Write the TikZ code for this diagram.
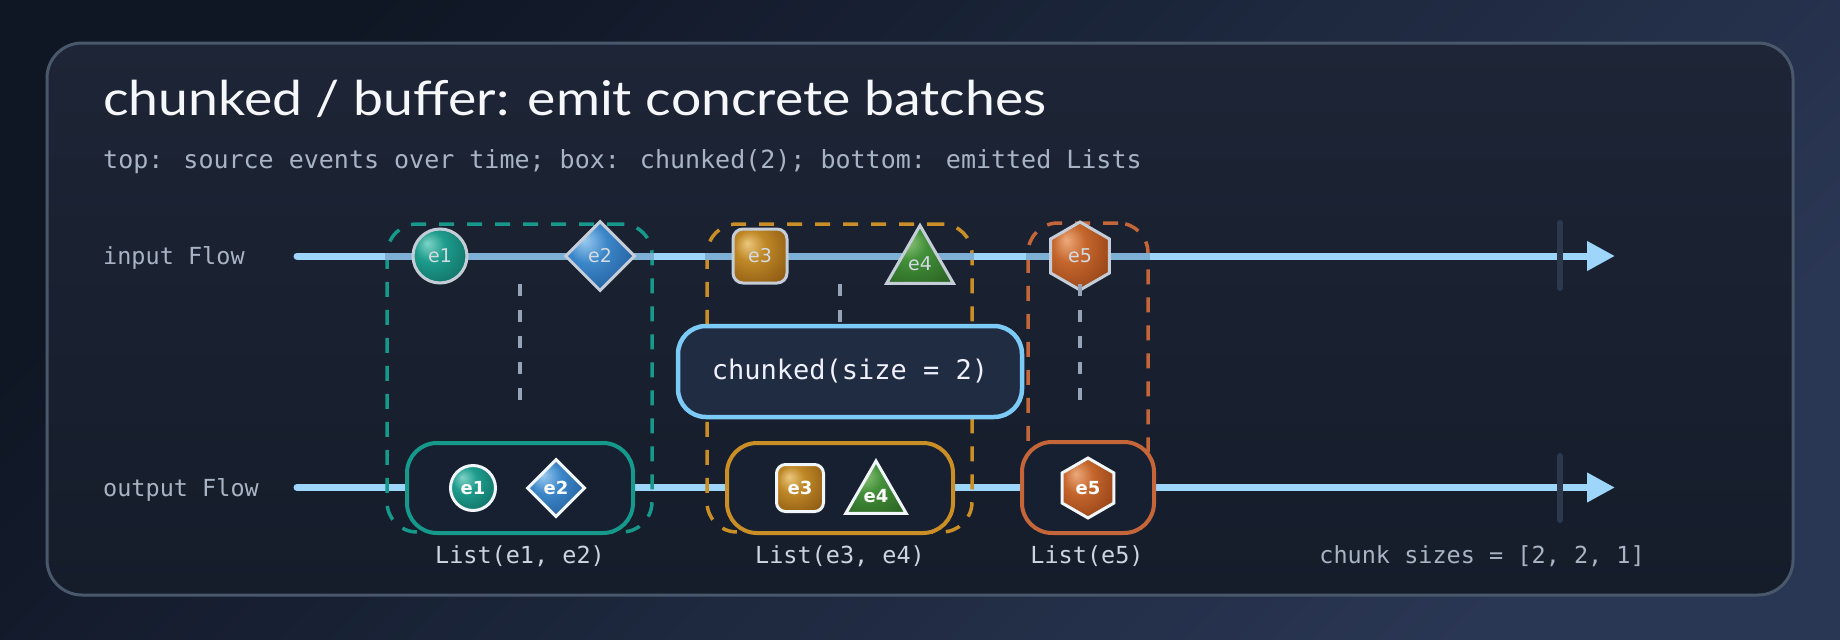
\documentclass[tikz,border=0pt]{standalone}
\usepackage{fontspec}
\usepackage{graphicx}
\setmainfont{DejaVu Sans}
\newfontfamily\titlefont{Lato}
\newfontfamily\monofont{DejaVu Sans Mono}
\usetikzlibrary{shapes.geometric,arrows.meta}

\definecolor{bgA}{HTML}{0F1624}
\definecolor{bgB}{HTML}{2A3754}
\definecolor{panelTop}{HTML}{1D2536}
\definecolor{panelBot}{HTML}{151C2A}
\definecolor{panelLine}{HTML}{4A586C}
\definecolor{flow}{HTML}{9DD5FB}
\definecolor{flowMuted}{HTML}{7EB0D6}
\definecolor{tickc}{HTML}{2C394D}
\definecolor{tealc}{HTML}{16998A}
\definecolor{goldc}{HTML}{C98F26}
\definecolor{rustc}{HTML}{C4663A}
\definecolor{connc}{HTML}{97A4B8}
\definecolor{chunkLine}{HTML}{7CCAF6}
\definecolor{chunkFill}{HTML}{1F2C41}
\definecolor{boxFill}{HTML}{172030}
\definecolor{titleC}{HTML}{F5F7FA}
\definecolor{subC}{HTML}{A8B4C4}
\definecolor{labC}{HTML}{CBD4DF}
\definecolor{evInLine}{HTML}{C5CED8}
\definecolor{evInText}{HTML}{D3DAE2}
\definecolor{evOutLine}{HTML}{F0F6FB}

\definecolor{tealH}{HTML}{7ED3C6}\definecolor{tealB}{HTML}{1E9C8C}\definecolor{tealD}{HTML}{0D675D}
\definecolor{blueH}{HTML}{9CCBF0}\definecolor{blueB}{HTML}{3C87C9}\definecolor{blueD}{HTML}{1C5290}
\definecolor{goldH}{HTML}{EBC77E}\definecolor{goldB}{HTML}{BF8827}\definecolor{goldD}{HTML}{875510}
\definecolor{greenH}{HTML}{98CC82}\definecolor{greenB}{HTML}{43903A}\definecolor{greenD}{HTML}{28601F}
\definecolor{orangeH}{HTML}{EDAA7C}\definecolor{orangeB}{HTML}{C4662D}\definecolor{orangeD}{HTML}{8A3A12}

\colorlet{evhl}{white}\colorlet{evbase}{gray}\colorlet{evdark}{black}
\pgfdeclareradialshading[evhl,evbase,evdark]{evball}{\pgfqpoint{-12bp}{12bp}}{color(0bp)=(evhl); color(14bp)=(evbase); color(40bp)=(evdark); color(60bp)=(evdark)}

\tikzset{
  pal/.code n args={3}{\colorlet{evhl}{#1}\colorlet{evbase}{#2}\colorlet{evdark}{#3}},
  evin/.style={draw=evInLine, line width=3pt, shading=evball, inner sep=0pt, text=evInText, font=\fontsize{19}{20}\selectfont},
  evout/.style={draw=evOutLine, line width=3pt, shading=evball, inner sep=0pt, text=white, font=\bfseries\fontsize{18}{20}\selectfont},
  ecirc/.style={circle},
  ediam/.style={diamond, aspect=1},
  esq/.style={rectangle, rounded corners=#1},
  etri/.style={regular polygon, regular polygon sides=3},
  ehex/.style={regular polygon, regular polygon sides=6, shape border rotate=30},
  grp/.style={draw=#1, line width=3.5pt, dash pattern=on 15pt off 13pt, rounded corners=30pt, rectangle, minimum height=308pt},
  obox/.style={draw=#1, line width=4pt, fill=boxFill, rounded corners=30pt, rectangle, minimum height=90pt},
  conn/.style={draw=connc, line width=4pt, dash pattern=on 12pt off 14pt},
  flowline/.style={draw=flow, line width=7pt, line cap=round, -{Triangle[length=28pt,width=28pt]}},
  muted/.style={draw=flowMuted, line width=7pt},
  tickmark/.style={draw=tickc, line width=6pt, line cap=round},
  mono/.style={font=\monofont\fontsize{23.5}{26}\selectfont, inner sep=0pt},
}

\begin{document}
\begin{tikzpicture}[x=1pt, y=-1pt]
  \useasboundingbox (0,0) rectangle (1840,640);
  \shade[top color=bgA, bottom color=bgB, shading angle=45] (0,0) rectangle (1840,640);
  \path[draw=panelLine, line width=3pt, top color=panelTop, bottom color=panelBot, rounded corners=35pt] (47,43) rectangle (1793,595);

  % texts
  \node[anchor=base west, inner sep=0pt, text=titleC, font=\titlefont\fontsize{48}{52}\selectfont] (title) at (103,115) {\scalebox{1.115}[1]{chunked / buffer: emit concrete batches}};
  \node[anchor=base west, inner sep=0pt, text=subC, font=\monofont\fontsize{25}{28}\selectfont] (sub) at (103,168) {top: source events over time; box: chunked(2); bottom: emitted Lists};
  \node[mono, anchor=base west, text=subC] (inlab) at (103,264) {input Flow};
  \node[mono, anchor=base west, text=subC] (outlab) at (103,496) {output Flow};

  % flow lines
  \coordinate (inS) at (297,256);
  \coordinate (inE) at (1615,256);
  \coordinate (outS) at (297,487.5);
  \coordinate (outE) at (1615,487.5);
  \draw[flowline] (inS) -- (inE);
  \draw[flowline] (outS) -- (outE);
  \coordinate (t1a) at (1560,223); \coordinate (t1b) at (1560,288);
  \coordinate (t2a) at (1560,456); \coordinate (t2b) at (1560,520);
  \draw[tickmark] (t1a) -- (t1b);
  \draw[tickmark] (t2a) -- (t2b);

  % group windows
  \node[grp=tealc, minimum width=265pt] (g1) at (519.5,378) {};
  \node[grp=goldc, minimum width=265pt] (g2) at (839.5,378) {};
  \node[grp=rustc, minimum width=120pt, minimum height=309pt] (g3) at (1088,377.5) {};
  \draw[muted] (g1.west |- inS) -- (g1.east |- inS);
  \draw[muted] (g2.west |- inS) -- (g2.east |- inS);
  \draw[muted] (g3.west |- inS) -- (g3.east |- inS);

  % connectors
  \coordinate (d1a) at (520,284); \coordinate (d1b) at (520,400);
  \coordinate (d2a) at (840,284); \coordinate (d2b) at (840,400);
  \coordinate (d3a) at (1080,284); \coordinate (d3b) at (1080,400);
  \draw[conn] (d1a) -- (d1b);
  \draw[conn] (d2a) -- (d2b);

  % operator
  \node[draw=chunkLine, line width=4.5pt, fill=chunkFill, rounded corners=28pt, minimum width=344pt, minimum height=91pt, text=white!94!blue, font=\monofont\fontsize{27}{30}\selectfont] (op) at (850,371.5) {chunked(size = 2)};

  % output boxes
  \node[obox=tealc, minimum width=226pt] (ob1) at (520,488) {};
  \node[obox=goldc, minimum width=226pt] (ob2) at (840,488) {};
  \node[obox=rustc, minimum width=132pt, minimum height=91pt] (ob3) at (1088,487.5) {};

  % input events
  \node[evin, ecirc, pal={tealH}{tealB}{tealD}, minimum size=54pt] (i1) at (440,256) {e1};
  \node[evin, ediam, pal={blueH}{blueB}{blueD}, minimum size=70pt] (i2) at (600,256) {e2};
  \node[evin, esq=10pt, pal={goldH}{goldB}{goldD}, minimum size=54pt] (i3) at (760,256) {e3};
  \node[evin, etri, pal={greenH}{greenB}{greenD}, minimum size=77pt] (i4) at (920,264) {e4};
  \node[evin, ehex, pal={orangeH}{orangeB}{orangeD}, minimum size=68pt] (i5) at (1080,256) {e5};
  \draw[conn] (d3a) -- (d3b);

  % output events
  \node[evout, ecirc, pal={tealH}{tealB}{tealD}, minimum size=45pt] (o1) at (473,488) {e1};
  \node[evout, ediam, pal={blueH}{blueB}{blueD}, minimum size=58pt] (o2) at (556,488) {e2};
  \node[evout, esq=9pt, pal={goldH}{goldB}{goldD}, minimum size=47pt] (o3) at (800,488) {e3};
  \node[evout, etri, pal={greenH}{greenB}{greenD}, minimum size=68pt] (o4) at (876,496) {e4};
  \node[evout, ehex, pal={orangeH}{orangeB}{orangeD}, minimum size=60pt] (o5) at (1088,488) {e5};

  % labels
  \node[mono, anchor=base, text=labC] (l1) at (520,563) {List(e1, e2)};
  \node[mono, anchor=base, text=labC] (l2) at (840,563) {List(e3, e4)};
  \node[mono, anchor=base, text=labC] (l3) at (1087,563) {List(e5)};
  \node[mono, anchor=base east, text=subC] (sizes) at (1645,563) {chunk sizes = [2, 2, 1]};
\end{tikzpicture}
\end{document}
